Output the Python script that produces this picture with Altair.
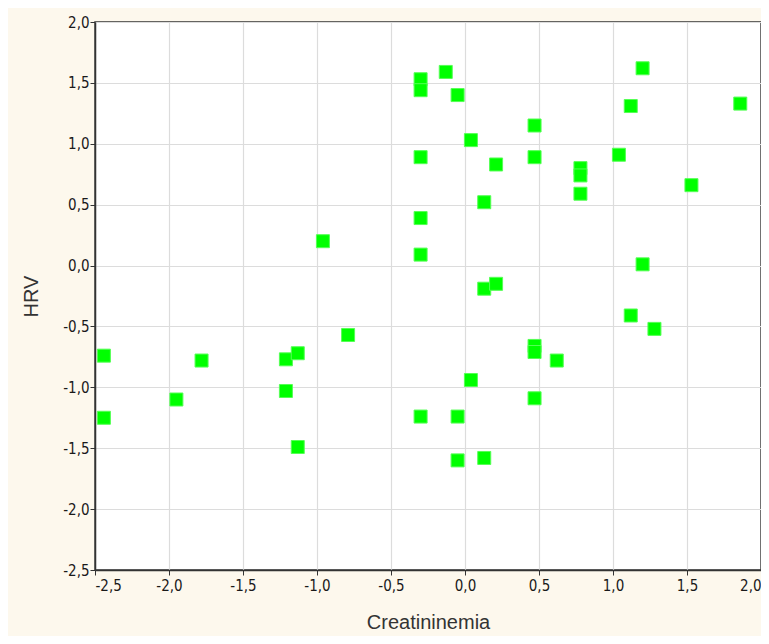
import altair as alt
import pandas as pd

creatininemia = [-2.44, -2.44, -1.95, -1.78, -1.21, -1.13, -1.21, -1.13, -0.96, -0.79,
                 -0.30, -0.30, -0.13, -0.05, -0.30, 0.04, -0.30, 0.21, 0.13, -0.30,
                 0.47, 0.47, 0.78, 0.78, 0.78, 1.04, 1.12, 1.20, 1.86, 1.53,
                 1.20, 0.13, 0.21, 1.12, 1.28, 0.47, 0.47, 0.62, 0.04, 0.47,
                 -0.30, -0.05, -0.05, 0.13]
hrv = [-0.74, -1.25, -1.10, -0.78, -0.77, -0.72, -1.03, -1.49, 0.20, -0.57,
       1.53, 1.44, 1.59, 1.40, 0.89, 1.03, 0.39, 0.83, 0.52, 0.09,
       1.15, 0.89, 0.80, 0.74, 0.59, 0.91, 1.31, 1.62, 1.33, 0.66,
       0.01, -0.19, -0.15, -0.41, -0.52, -0.66, -0.71, -0.78, -0.94, -1.09,
       -1.24, -1.24, -1.60, -1.58]

df = pd.DataFrame({"Creatininemia": creatininemia, "HRV": hrv})

label_expr = "(datum.value < 0 ? '-' : '') + replace(format(abs(datum.value), '.1f'), '.', ',')"
ticks = [-2.5, -2.0, -1.5, -1.0, -0.5, 0.0, 0.5, 1.0, 1.5, 2.0]

chart = alt.Chart(df).mark_square(
    size=169, filled=True, color="#00ff00", stroke="#55ff55", strokeWidth=1, opacity=1
).encode(
    x=alt.X("Creatininemia:Q",
            scale=alt.Scale(domain=[-2.5, 2.0], nice=False, zero=False),
            axis=alt.Axis(values=ticks, labelExpr=label_expr, title="Creatininemia",
                          titleX=333, titleY=52, titleBaseline="middle",
                          labelPadding=3)),
    y=alt.Y("HRV:Q",
            scale=alt.Scale(domain=[-2.5, 2.0], nice=False, zero=False),
            axis=alt.Axis(values=ticks, labelExpr=label_expr, title="HRV",
                          titleX=-64, titleY=274, titleBaseline="middle",
                          labelPadding=1)),
).properties(
    width=666, height=548,
    autosize=alt.AutoSizeParams(type="none"),
    padding={"left": 87, "top": 14, "right": 0, "bottom": 66},
    background="#fdf8ed",
).configure_view(
    fill="white", stroke="#333333", strokeWidth=1.5
).configure_axis(
    grid=True, gridColor="#dcdcdc", gridWidth=1.2,
    domainColor="#333333", domainWidth=1.5,
    tickColor="#333333", tickSize=5, tickWidth=1,
    labelFont="DejaVu Sans Condensed, Liberation Sans", labelFontSize=15, labelColor="#1a1a1a",
    labelFontWeight="normal",
    titleFont="Liberation Sans", titleFontSize=20, titleFontWeight="normal",
    titleColor="#333333",
)

chart.save("out.html", embed_options={"renderer": "svg", "actions": False})
